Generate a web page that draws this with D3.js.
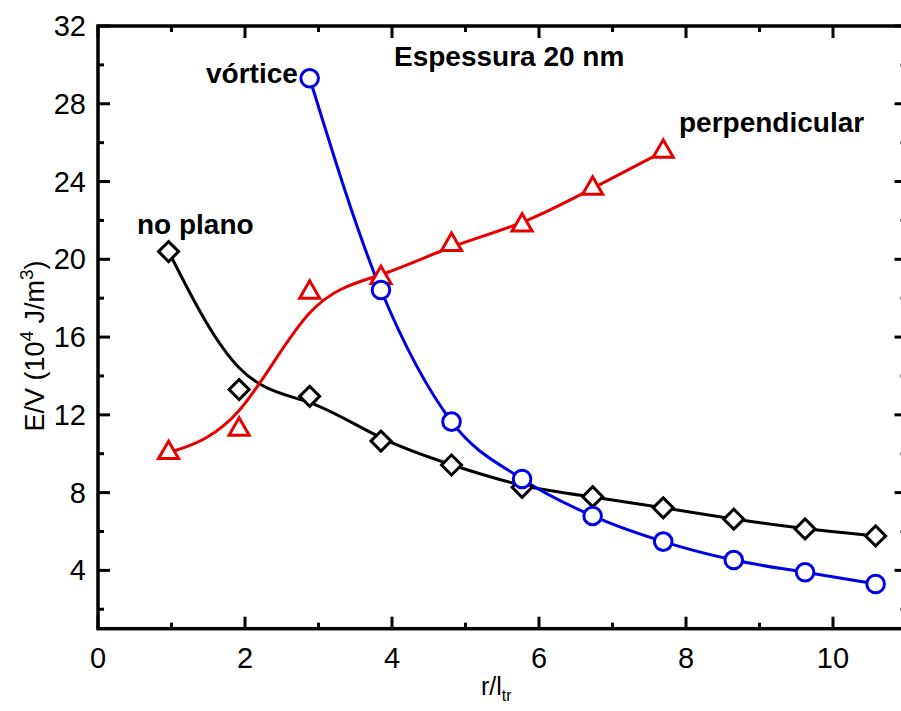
<!DOCTYPE html>
<html>
<head>
<meta charset="utf-8">
<script src="https://cdn.jsdelivr.net/npm/d3@7"></script>
<style>
  body { margin: 0; background: #fff; }
  text { font-family: "Liberation Sans", Arial, sans-serif; }
</style>
</head>
<body>
<div id="canvas"></div>
<script>
const xVals = [0.96, 1.92, 2.88, 3.85, 4.81, 5.77, 6.73, 7.69, 8.65, 9.62, 10.58];
const noPlano = [20.4, 13.3, 12.95, 10.65, 9.42, 8.27, 7.79, 7.22, 6.63, 6.13, 5.77];
const vortice = [null, null, 29.31, 18.42, 11.65, 8.7, 6.8, 5.48, 4.53, 3.9, 3.3];
const perpendicular = [10.05, 11.25, 18.3, 19.05, 20.75, 21.75, 23.65, 25.55];
const xTicks = [0, 2, 4, 6, 8, 10];
const yTicks = [4, 8, 12, 16, 20, 24, 28, 32];

const W = 901, H = 711;
const margin = { top: 26, right: -5.5, bottom: 82.3, left: 98 };
const width = W - margin.left - margin.right;
const height = H - margin.top - margin.bottom;

const svg = d3
  .select("#canvas")
  .append("svg")
  .attr("width", W)
  .attr("height", H);

const g = svg
  .append("g")
  .attr("transform", "translate(" + margin.left + "," + margin.top + ")");

const x = d3.scaleLinear().domain([0, 11]).range([0, width]);
const y = d3.scaleLinear().domain([1, 32]).range([height, 0]);

const toPts = (vals) =>
  vals.map((v, i) => [xVals[i], v]).filter((d) => d[1] != null);

// frame
g.append("rect")
  .attr("width", width)
  .attr("height", height)
  .attr("fill", "none")
  .attr("stroke", "#000")
  .attr("stroke-width", 3.5);

// ticks (inward), major and minor
const xMinor = d3.range(1, 12, 2);
const yMinor = d3.range(2, 32, 4);
const tickG = g.append("g").attr("stroke", "#000").attr("stroke-width", 3);
const addXTicks = (vals, len) => {
  vals.forEach((v) => {
    tickG.append("line").attr("x1", x(v)).attr("x2", x(v)).attr("y1", height).attr("y2", height - len);
    tickG.append("line").attr("x1", x(v)).attr("x2", x(v)).attr("y1", 0).attr("y2", len);
  });
};
const addYTicks = (vals, len) => {
  vals.forEach((v) => {
    tickG.append("line").attr("y1", y(v)).attr("y2", y(v)).attr("x1", 0).attr("x2", len);
    tickG.append("line").attr("y1", y(v)).attr("y2", y(v)).attr("x1", width).attr("x2", width - len);
  });
};
addXTicks(xTicks, 12);
addXTicks(xMinor, 6);
addYTicks(yTicks, 12);
addYTicks(yMinor, 6);

// tick labels
g.selectAll(".xl")
  .data(xTicks)
  .join("text")
  .attr("x", (d) => x(d))
  .attr("y", height + 39)
  .attr("text-anchor", "middle")
  .style("font-size", "29px")
  .text((d) => d);

g.selectAll(".yl")
  .data(yTicks)
  .join("text")
  .attr("x", -12)
  .attr("y", (d) => y(d) + 10)
  .attr("text-anchor", "end")
  .style("font-size", "29px")
  .text((d) => d);

// axis titles
const xt = svg
  .append("text")
  .attr("x", 481)
  .attr("y", 695)
  .style("font-size", "25px");
xt.append("tspan").text("r/l");
xt.append("tspan").attr("dy", 6).style("font-size", "16px").text("tr");

const yt = svg
  .append("text")
  .attr("transform", "translate(44,346) rotate(-90)")
  .attr("text-anchor", "middle")
  .style("font-size", "27px");
yt.append("tspan").text("E/V (10");
yt.append("tspan").attr("dy", -11).style("font-size", "19px").text("4");
yt.append("tspan").attr("dy", 11).text(" J/m");
yt.append("tspan").attr("dy", -11).style("font-size", "19px").text("3");
yt.append("tspan").attr("dy", 11).text(")");

// curves
const basis = d3.line().x((d) => x(d[0])).y((d) => y(d[1])).curve(d3.curveBasis);
const mono = d3.line().x((d) => x(d[0])).y((d) => y(d[1])).curve(d3.curveMonotoneX);

g.append("path")
  .datum(toPts(noPlano))
  .attr("fill", "none")
  .attr("stroke", "#000")
  .attr("stroke-width", 3)
  .attr("d", basis);

g.append("path")
  .datum(toPts(perpendicular))
  .attr("fill", "none")
  .attr("stroke", "#e60000")
  .attr("stroke-width", 3)
  .attr("d", basis);

g.append("path")
  .datum(toPts(vortice))
  .attr("fill", "none")
  .attr("stroke", "#0000e6")
  .attr("stroke-width", 3)
  .attr("d", mono);

// markers
g.selectAll(".dia")
  .data(toPts(noPlano))
  .join("path")
  .attr("d", d3.symbol(d3.symbolSquare, 200))
  .attr("transform", (d) => "translate(" + x(d[0]) + "," + y(d[1]) + ") rotate(45)")
  .attr("fill", "#fff")
  .attr("stroke", "#000")
  .attr("stroke-width", 3);

g.selectAll(".tri")
  .data(toPts(perpendicular))
  .join("path")
  .attr("d", d3.symbol(d3.symbolTriangle, 175))
  .attr("transform", (d) => "translate(" + x(d[0]) + "," + y(d[1]) + ")")
  .attr("fill", "#fff")
  .attr("stroke", "#e60000")
  .attr("stroke-width", 3);

g.selectAll(".circ")
  .data(toPts(vortice))
  .join("circle")
  .attr("cx", (d) => x(d[0]))
  .attr("cy", (d) => y(d[1]))
  .attr("r", 8.8)
  .attr("fill", "#fff")
  .attr("stroke", "#0000e6")
  .attr("stroke-width", 3);

// annotations
const notes = [
  { t: "Espessura 20 nm", x: 394, y: 66 },
  { t: "vórtice", x: 206, y: 83 },
  { t: "perpendicular", x: 679, y: 132 },
  { t: "no plano", x: 137, y: 234 },
];
svg
  .selectAll(".note")
  .data(notes)
  .join("text")
  .attr("x", (d) => d.x)
  .attr("y", (d) => d.y)
  .style("font-size", "28px")
  .style("font-weight", "bold")
  .text((d) => d.t);
</script>
</body>
</html>
